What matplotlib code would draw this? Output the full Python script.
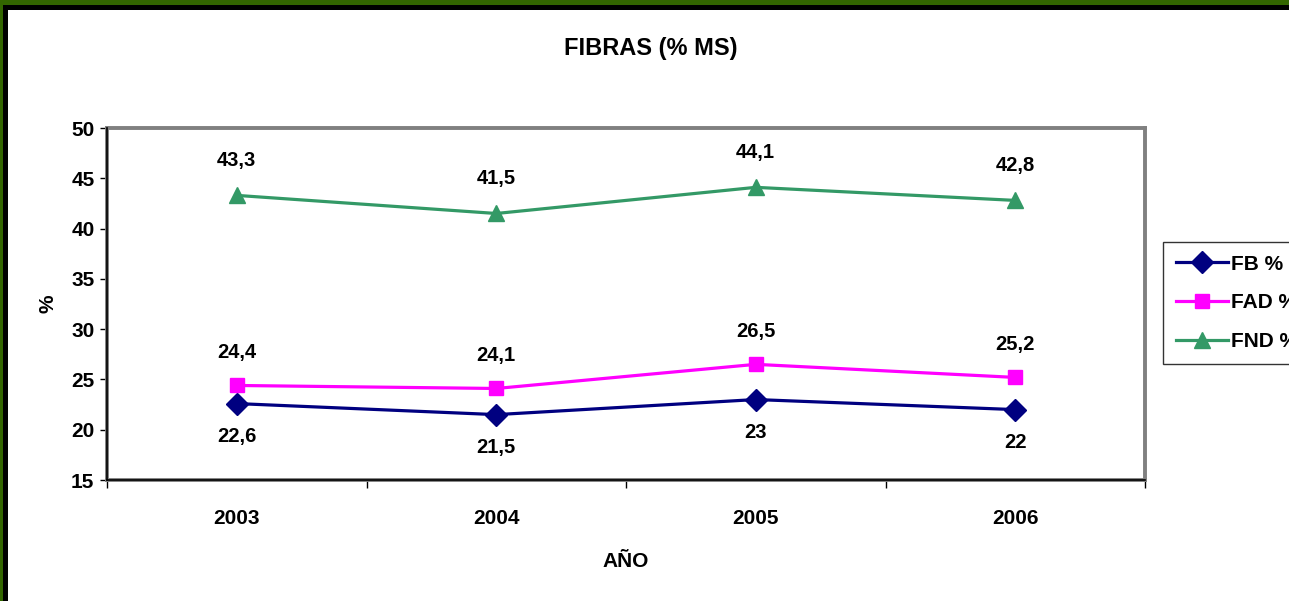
import matplotlib
matplotlib.use("Agg")
import matplotlib.pyplot as plt
from matplotlib.patches import Rectangle

plt.rcParams['font.family'] = ['Liberation Sans', 'DejaVu Sans']
plt.rcParams['font.weight'] = 'bold'

years = ['2003', '2004', '2005', '2006']
fb = [22.6, 21.5, 23.0, 22.0]
fad = [24.4, 24.1, 26.5, 25.2]
fnd = [43.3, 41.5, 44.1, 42.8]
fb_labels = ['22,6', '21,5', '23', '22']
fad_labels = ['24,4', '24,1', '26,5', '25,2']
fnd_labels = ['43,3', '41,5', '44,1', '42,8']

W, H = 1289, 601
fig = plt.figure(figsize=(W / 100, H / 100), dpi=100)
fig.patch.set_facecolor('white')

ax = fig.add_axes([107 / W, 1 - 480 / H, (1145 - 107) / W, (480 - 128) / H])

x = list(range(len(years)))
ax.plot(x, fb, color='#000080', lw=2.3, marker='D', ms=11, label='FB %')
ax.plot(x, fad, color='#FF00FF', lw=2.3, marker='s', ms=9.5, label='FAD %')
ax.plot(x, fnd, color='#339966', lw=2.3, marker='^', ms=11, label='FND %')

for i in x:
    ax.annotate(fnd_labels[i], (i, fnd[i]), xytext=(0, 25), textcoords='offset points',
                ha='center', va='center', fontsize=14.5, fontweight='bold')
    ax.annotate(fad_labels[i], (i, fad[i]), xytext=(0, 24), textcoords='offset points',
                ha='center', va='center', fontsize=14.5, fontweight='bold')
    ax.annotate(fb_labels[i], (i, fb[i]), xytext=(0, -24), textcoords='offset points',
                ha='center', va='center', fontsize=14.5, fontweight='bold')

ax.set_xlim(-0.5, 3.5)
ax.set_ylim(15, 50)
ax.set_yticks(range(15, 51, 5))
ax.tick_params(axis='y', direction='out', length=5, width=1, labelsize=15, pad=4)
ax.set_xticks([-0.5, 0.5, 1.5, 2.5, 3.5])
ax.set_xticklabels([])
ax.tick_params(axis='x', which='major', direction='out', length=6, width=1)
ax.set_xticks(x, minor=True)
ax.set_xticklabels(years, minor=True, fontsize=15, fontweight='bold')
ax.tick_params(axis='x', which='minor', length=0, pad=21)
for lab in ax.get_yticklabels():
    lab.set_fontweight('bold')

for s in ax.spines.values():
    s.set_color('#808080')
    s.set_linewidth(2.8)
ax.plot([0, 0], [0, 1], color='black', lw=1.2, transform=ax.transAxes, clip_on=False, zorder=5)
ax.plot([0, 1], [0, 0], color='black', lw=1.2, transform=ax.transAxes, clip_on=False, zorder=5)

ax.set_xlabel('AÑO', fontsize=15, fontweight='bold', labelpad=17)
ax.set_ylabel('%', fontsize=15, fontweight='bold', labelpad=10)
fig.text(651 / W, 1 - 48 / H, 'FIBRAS (% MS)', ha='center', va='center',
         fontsize=17, fontweight='bold')

# legend sits partly past the right edge, as in the original picture
leg = fig.legend(loc='upper left', bbox_to_anchor=(1163 / W, 1 - 242 / H),
                 frameon=True, fancybox=False, edgecolor='black', fontsize=15,
                 handlelength=2.5, handletextpad=0.15, borderpad=0.6, labelspacing=0.95,
                 borderaxespad=0)
leg.get_frame().set_linewidth(1)
for t in leg.get_texts():
    t.set_fontweight('bold')

# border at top and left
fig.add_artist(Rectangle((0, 1 - 5 / H), 1, 5 / H, transform=fig.transFigure,
                         color='#336600', lw=0, zorder=10))
fig.add_artist(Rectangle((0, 1 - 10 / H), 1, 5 / H, transform=fig.transFigure,
                         color='black', lw=0, zorder=10))
fig.add_artist(Rectangle((0, 0), 3 / W, 1, transform=fig.transFigure,
                         color='#336600', lw=0, zorder=10))
fig.add_artist(Rectangle((3 / W, 0), 5 / W, 1 - 5 / H, transform=fig.transFigure,
                         color='black', lw=0, zorder=10))

fig.savefig('out.png', dpi=100)
